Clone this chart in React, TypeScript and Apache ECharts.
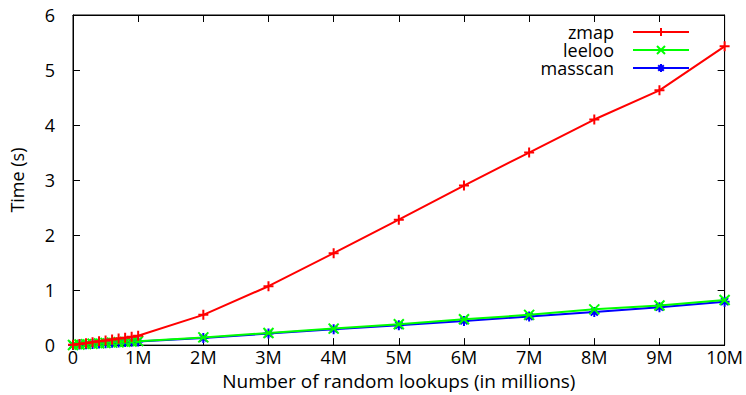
import React, { useEffect, useRef } from "react";
import * as echarts from "echarts";

const lookupsM = [0, 0.1, 0.2, 0.3, 0.4, 0.5, 0.6, 0.7, 0.8, 0.9, 1, 2, 3, 4, 5, 6, 7, 8, 9, 10];
const zmap = [0.005, 0.02, 0.035, 0.05, 0.068, 0.085, 0.1, 0.118, 0.135, 0.152, 0.17, 0.55, 1.07, 1.67, 2.28, 2.9, 3.5, 4.1, 4.63, 5.43];
const leeloo = [0.003, 0.01, 0.017, 0.024, 0.031, 0.038, 0.045, 0.052, 0.059, 0.066, 0.072, 0.14, 0.22, 0.3, 0.38, 0.47, 0.55, 0.65, 0.72, 0.82];
const masscan = [0.002, 0.009, 0.016, 0.022, 0.029, 0.035, 0.042, 0.048, 0.055, 0.061, 0.067, 0.13, 0.21, 0.29, 0.36, 0.44, 0.52, 0.6, 0.69, 0.79];
const seriesNames = ["zmap", "leeloo", "masscan"];
const colors = ["#ff0000", "#00ff00", "#0000ff"];

const PLUS = "path://M0,5L10,5M5,0L5,10";
const CROSS = "path://M1,1L9,9M9,1L1,9";
const STAR = "path://M0,5L10,5M5,0L5,10M1.5,1.5L8.5,8.5M8.5,1.5L1.5,8.5";
const symbols = [PLUS, CROSS, STAR];

const FONT = "Open Sans";
const FS = 18;

export default function App() {
  const ref = useRef<HTMLDivElement>(null);
  useEffect(() => {
    if (!ref.current) return;
    const chart = echarts.init(ref.current, undefined, { renderer: "svg" });
    const datasets = [zmap, leeloo, masscan];
    const fmt = (v: number) => (v === 0 ? "0" : `${v}M`);
    const axisCommon = {
      min: 0,
      axisLine: { show: true, onZero: false, lineStyle: { color: "#000", width: 1 } },
      axisTick: { show: true, inside: true, length: 7, lineStyle: { color: "#000" } },
      splitLine: { show: false },
    };
    chart.setOption({
      animation: false,
      backgroundColor: "#fff",
      textStyle: { fontFamily: FONT },
      grid: { left: 70, right: 21, top: 15, bottom: 46, show: true, borderColor: "#000", borderWidth: 1 },
      legend: {
        show: true,
        data: seriesNames,
        orient: "vertical",
        right: 56,
        top: 23,
        padding: 0,
        align: "right",
        itemWidth: 56,
        itemHeight: 10,
        itemGap: 0,
        textStyle: { fontFamily: FONT, fontSize: FS, color: "#000", lineHeight: 14, height: 14, padding: [0, 14, 0, 0] },
      },
      xAxis: [
        {
          ...axisCommon,
          type: "value",
          max: 10,
          interval: 1,
          position: "bottom",
          name: "Number of random lookups (in millions)",
          nameLocation: "middle",
          nameGap: 25,
          nameTextStyle: { fontFamily: FONT, fontSize: 19, color: "#000" },
          axisLabel: { formatter: fmt, fontFamily: FONT, fontSize: FS, color: "#000", margin: 3 },
        },
        {
          ...axisCommon,
          type: "value",
          max: 10,
          interval: 1,
          position: "top",
          axisLabel: { show: false },
        },
      ],
      yAxis: [
        {
          ...axisCommon,
          type: "value",
          max: 6,
          interval: 1,
          position: "left",
          name: "Time (s)",
          nameLocation: "middle",
          nameGap: 47,
          nameRotate: 90,
          nameTextStyle: { fontFamily: FONT, fontSize: FS, color: "#000" },
          axisLabel: { fontFamily: FONT, fontSize: FS, color: "#000", margin: 18 },
        },
        {
          ...axisCommon,
          type: "value",
          max: 6,
          interval: 1,
          position: "right",
          axisLabel: { show: false },
        },
      ],
      series: seriesNames.map((name, i) => ({
        name,
        type: "line",
        xAxisIndex: 0,
        yAxisIndex: 0,
        data: lookupsM.map((x, j) => [x, datasets[i][j]]),
        symbol: symbols[i],
        symbolSize: 10,
        showAllSymbol: true,
        lineStyle: { color: colors[i], width: 2 },
        itemStyle: { color: colors[i], borderColor: colors[i], borderWidth: 2 },
        emphasis: { disabled: true },
        z: 3 - i,
      })),
    });
    return () => chart.dispose();
  }, []);
  return <div ref={ref} style={{ position: "fixed", left: 0, top: 0, width: 746, height: 395 }} />;
}
